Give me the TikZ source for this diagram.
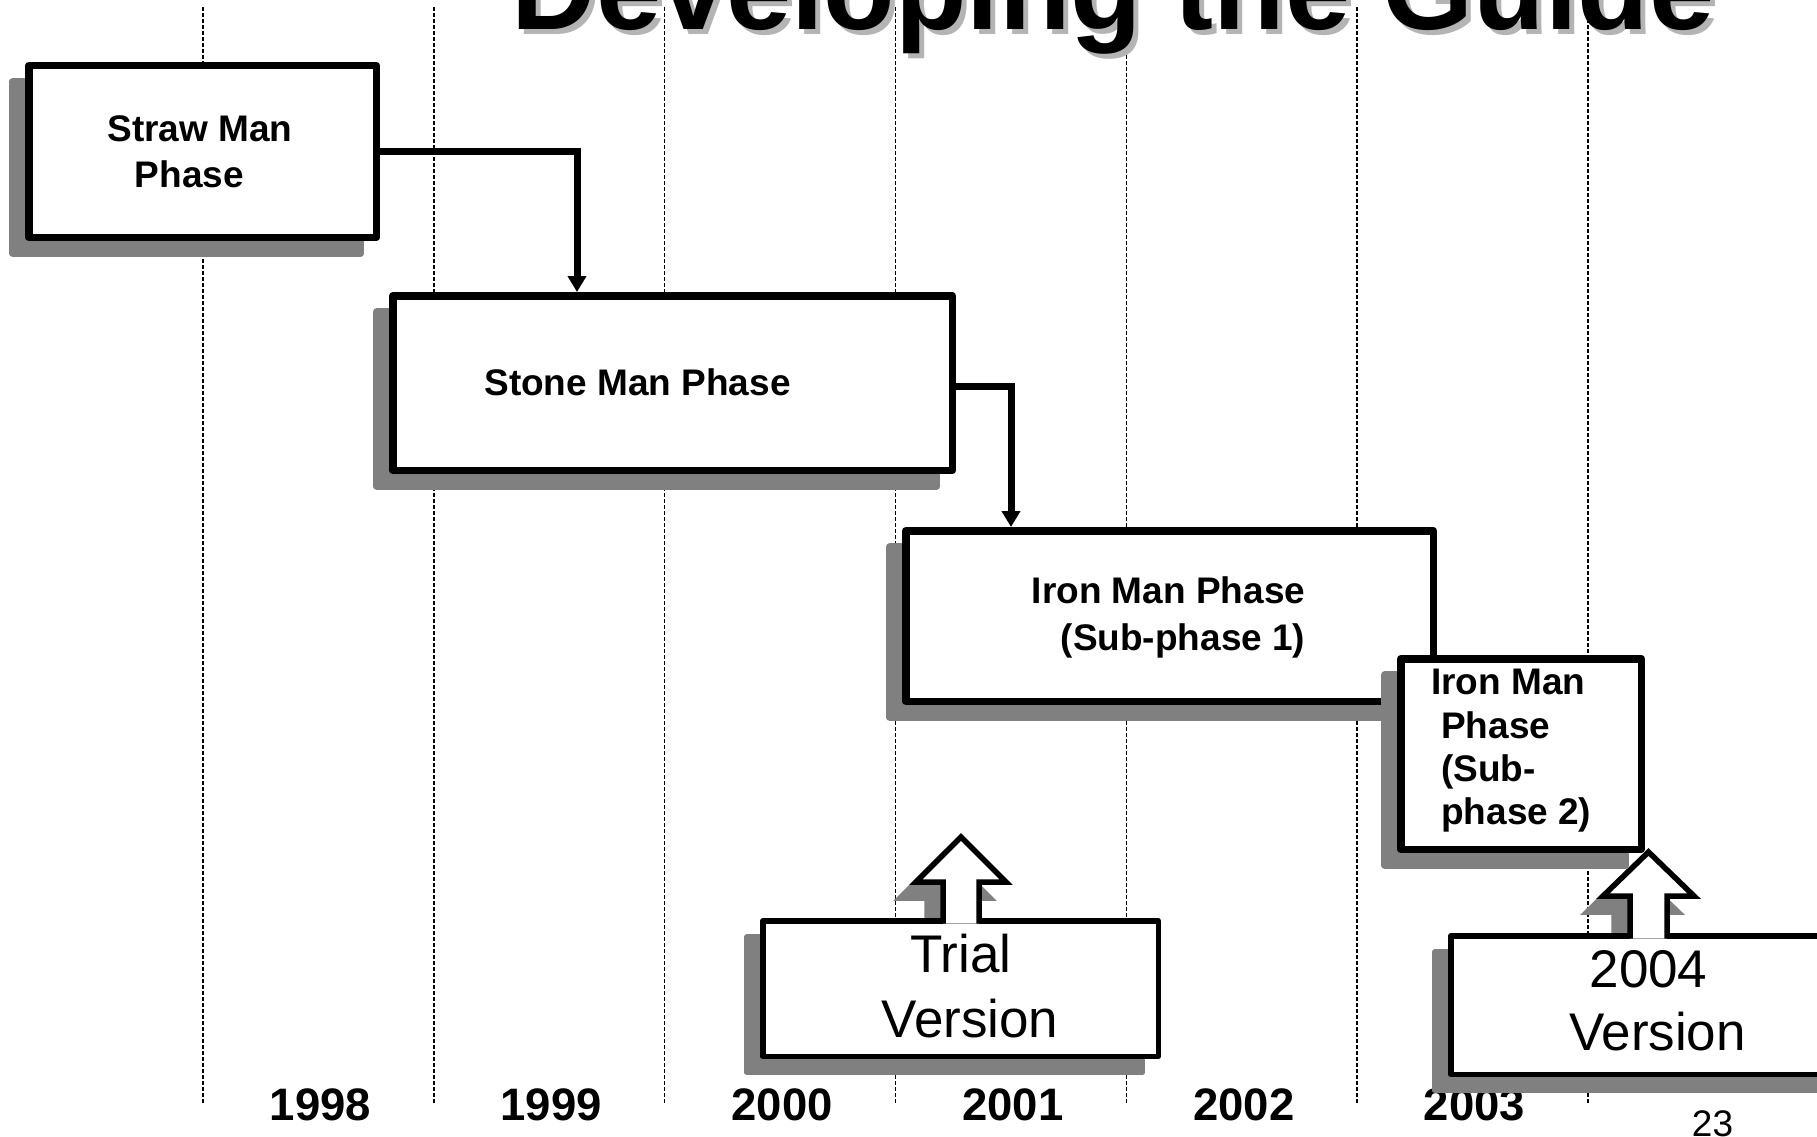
\documentclass[tikz,border=0pt]{standalone}
\usepackage{fontspec}
\setmainfont{Liberation Sans}
\usetikzlibrary{arrows.meta,calc}
\definecolor{shgray}{HTML}{808080}
\definecolor{titlegray}{HTML}{B4B4B4}
\begin{document}
\begin{tikzpicture}[x=1pt,y=-1pt,
  gridline/.style={line width=1.4pt, dash pattern=on 4pt off 2pt},
  phasebox/.style={rectangle, draw=black, fill=white, line width=7.5pt, line join=round, inner sep=0pt,
    preaction={draw=shgray, fill=shgray, line width=7.5pt, line join=round,
      transform canvas={shift={(-16pt,-16pt)}}}},
  versionbox/.style={rectangle, draw=black, fill=white, line width=5.5pt, line join=round, inner sep=0pt,
    preaction={draw=shgray, fill=shgray, line width=5.5pt, line join=round,
      transform canvas={shift={(-16pt,-16pt)}}}},
  conn/.style={line width=7pt, -{Triangle[width=18pt,length=16pt]}},
  calloutshadow/.style={draw=shgray, fill=shgray, line width=5.5pt, shift={(-16,16)}},
  calloutline/.style={draw=black, line width=5.5pt},
  boxtext/.style={font=\fontsize{37}{44}\selectfont\bfseries, anchor=base, inner sep=0pt},
  bigtext/.style={font=\fontsize{53}{60}\selectfont, anchor=base, inner sep=0pt},
  yeartext/.style={font=\fontsize{45.5}{50}\selectfont\bfseries, anchor=base, inner sep=0pt},
  titletext/.style={font=\fontsize{117}{130}\selectfont\bfseries, anchor=base, inner sep=0pt}
]
\useasboundingbox (0,0) rectangle (1817,1137);
\clip (0,0) rectangle (1817,1137);

% dashed year separators
\foreach \i in {0,...,6}
  \draw[gridline] (203+230.8*\i,7) -- (203+230.8*\i,1103);

% title
\node[titletext, text=titlegray] (titleshadow) at (1118,35) {Developing the Guide};
\node[titletext] (title) at (1113,30) {Developing the Guide};

% years and page number
\foreach \yr [count=\i from 0] in {1998,1999,2000,2001,2002,2003}
  \node[yeartext] (y\yr) at (320.5+230.8*\i,1120) {\yr};
\node[font=\fontsize{37}{40}\selectfont, anchor=base, inner sep=0pt] (pagenum) at (1712.5,1136) {23};

% phase boxes
\node[phasebox, minimum width=347.5pt, minimum height=171.5pt] (straw) at (202.5,151.5) {};
\node[boxtext] (strawA) at (200,142) {Straw Man};
\node[boxtext] (strawB) at (189.5,187) {Phase};

\node[phasebox, minimum width=559.5pt, minimum height=174.5pt] (stone) at (672.5,383) {};
\node[boxtext] (stoneT) at (637.5,395) {Stone Man Phase};

\node[phasebox, minimum width=527.5pt, minimum height=170.5pt] (iron1) at (1169.5,616) {};
\node[boxtext] (ironA) at (1168.5,603) {Iron Man Phase};
\node[boxtext] (ironB) at (1183,650) {(Sub-phase 1)};

\node[phasebox, minimum width=240.5pt, minimum height=190.5pt] (iron2) at (1521,754) {};
\node[boxtext, anchor=base west] (iron2A) at (1431,694) {Iron Man};
\node[boxtext, anchor=base west] (iron2B) at (1441,738) {Phase};
\node[boxtext, anchor=base west] (iron2C) at (1441,781) {(Sub-};
\node[boxtext, anchor=base west] (iron2D) at (1441,824) {phase 2)};

% connectors
\draw[conn] (straw.east) -| (577,0 |- stone.north);
\draw[conn] ([yshift=-3pt]stone.east) -| (1011,0 |- iron1.north);

% Trial Version callout
\path[calloutshadow] (943,923) -- (943,882) -- (916,882) -- (961,837) -- (1006,882) -- (979,882) -- (979,923) -- cycle;
\node[versionbox, minimum width=395.5pt, minimum height=135.5pt] (trial) at (960.5,988.5) {};
\fill[white] (943,923.5) -- (943,882) -- (916,882) -- (961,837) -- (1006,882) -- (979,882) -- (979,923.5) -- cycle;
\draw[calloutline] (943,923.5) -- (943,882) -- (916,882) -- (961,837) -- (1006,882) -- (979,882) -- (979,923.5);
\node[bigtext] (trialA) at (961,972) {Trial};
\node[bigtext] (trialB) at (970,1037) {Version};

% 2004 Version callout
\path[calloutshadow] (1630,938) -- (1630,896) -- (1603,896) -- (1648.5,852) -- (1694,896) -- (1667,896) -- (1667,938) -- cycle;
\node[versionbox, minimum width=449.25pt, minimum height=138.5pt] (v2004) at (1675.4,1005) {};
\fill[white] (1630,938.5) -- (1630,896) -- (1603,896) -- (1648.5,852) -- (1694,896) -- (1667,896) -- (1667,938.5) -- cycle;
\draw[calloutline] (1630,938.5) -- (1630,896) -- (1603,896) -- (1648.5,852) -- (1694,896) -- (1667,896) -- (1667,938.5);
\node[bigtext] (vA) at (1648.5,987) {2004};
\node[bigtext] (vB) at (1657.5,1050) {Version};
\end{tikzpicture}
\end{document}
